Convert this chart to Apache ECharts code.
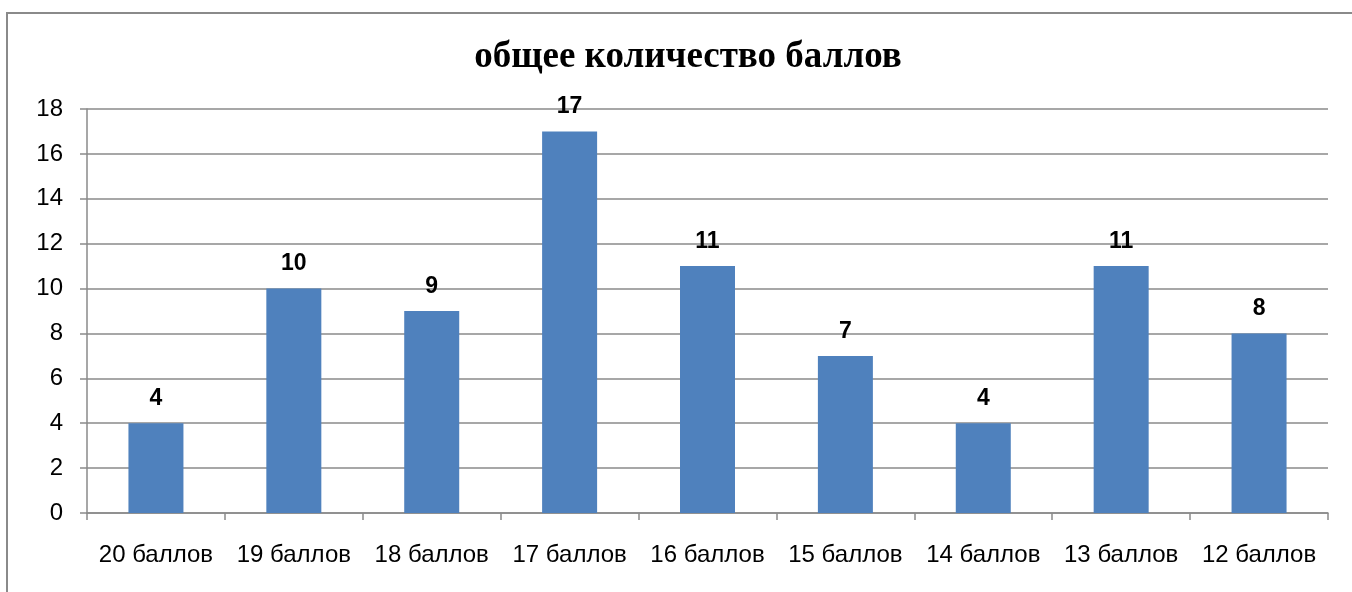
<!DOCTYPE html>
<html>
<head>
<meta charset="UTF-8" />
<title>общее количество баллов</title>
<script src="https://cdn.jsdelivr.net/npm/echarts@6/dist/echarts.min.js"></script>
<style>
html, body { margin: 0; padding: 0; background: #fff; }
</style>
</head>
<body>
<div id="chart" style="width: 1352px; height: 592px;"></div>
<script>
// данные
var categories = ["20 баллов", "19 баллов", "18 баллов", "17 баллов", "16 баллов", "15 баллов", "14 баллов", "13 баллов", "12 баллов"];
var values = [4, 10, 9, 17, 11, 7, 4, 11, 8];
var yTicks = [0, 2, 4, 6, 8, 10, 12, 14, 16, 18];

var myChart = echarts.init(document.getElementById("chart"));

var option = {
  animation: false,
  title: {
    text: "общее количество баллов",
    left: 683,
    textAlign: "center",
    top: 34,
    textStyle: {
      fontFamily: "Liberation Serif",
      fontWeight: "bold",
      fontSize: 37,
      color: "#000"
    }
  },
  graphic: [
    {
      type: "polyline",
      shape: { points: [[7, 600], [7, 13], [1360, 13]] },
      style: { stroke: "#8a8a8a", lineWidth: 2, fill: null }
    }
  ],
  grid: { left: 87, right: 24, top: 109, bottom: 79 },
  xAxis: {
    type: "category",
    data: categories,
    boundaryGap: true,
    axisLine: { lineStyle: { color: "#8a8a8a", width: 1.5 } },
    axisTick: { show: true, interval: 0, length: 7, lineStyle: { color: "#8a8a8a", width: 1.5 } },
    axisLabel: {
      interval: 0,
      hideOverlap: false,
      margin: 30,
      fontFamily: "Liberation Sans",
      fontSize: 24,
      color: "#000"
    }
  },
  yAxis: {
    type: "value",
    min: yTicks[0],
    max: yTicks[yTicks.length - 1],
    interval: 2,
    axisLine: { show: true, lineStyle: { color: "#8a8a8a", width: 1.5 } },
    axisTick: { show: true, inside: false, length: 7, lineStyle: { color: "#8a8a8a", width: 1.5 } },
    splitLine: { lineStyle: { color: "#8a8a8a", width: 1.5 } },
    axisLabel: {
      margin: 24,
      fontFamily: "Liberation Sans",
      fontSize: 24,
      color: "#000"
    }
  },
  series: [
    {
      type: "bar",
      data: values,
      barWidth: 55,
      itemStyle: { color: "#4f81bd" },
      label: {
        show: true,
        position: "top",
        distance: 13,
        fontFamily: "Liberation Sans",
        fontWeight: "bold",
        fontSize: 23,
        color: "#000"
      }
    }
  ]
};

myChart.setOption(option);
</script>
</body>
</html>
